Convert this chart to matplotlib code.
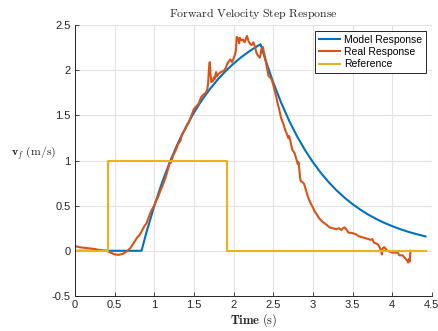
import matplotlib
matplotlib.use("Agg")
import matplotlib.pyplot as plt

# ---- data ----
model_t = [0.0, 0.84, 0.9, 1.0, 1.1, 1.2, 1.3, 1.4, 1.5, 1.6, 1.7, 1.8, 1.9, 2.0, 2.1, 2.2, 2.3, 2.34,
           2.4, 2.5, 2.6, 2.7, 2.8, 2.9, 3.0, 3.1, 3.2, 3.3, 3.4, 3.5, 3.6, 3.7, 3.8, 3.9, 4.0, 4.1,
           4.2, 4.3, 4.42]
model_v = [0.0, 0.0, 0.198, 0.496, 0.759, 0.991, 1.195, 1.373, 1.530, 1.669, 1.790, 1.897, 1.991,
           2.074, 2.147, 2.211, 2.268, 2.288,
           2.120, 1.866, 1.641, 1.443, 1.269, 1.117, 0.982, 0.864, 0.760, 0.668, 0.588, 0.517,
           0.455, 0.400, 0.352, 0.310, 0.273, 0.240, 0.211, 0.186, 0.159]

real_t = [0.00, 0.02, 0.05, 0.10, 0.15, 0.20, 0.25, 0.30, 0.35, 0.40, 0.45, 0.50, 0.55, 0.60, 0.65,
          0.70, 0.75, 0.78, 0.82, 0.85, 0.88, 0.90, 0.93, 0.96, 1.00, 1.02, 1.05, 1.08, 1.10, 1.13,
          1.16, 1.19, 1.21, 1.24, 1.27, 1.30, 1.33, 1.35, 1.38, 1.41, 1.44, 1.47, 1.50, 1.53, 1.56,
          1.59, 1.62, 1.65, 1.67, 1.68, 1.69, 1.70, 1.71, 1.72, 1.74, 1.75, 1.76, 1.78, 1.79, 1.81,
          1.84, 1.87, 1.90, 1.92, 1.94, 1.96, 1.98, 2.00, 2.02, 2.03, 2.04, 2.06, 2.07, 2.08, 2.10,
          2.12, 2.14, 2.16, 2.17, 2.19, 2.21, 2.23, 2.25, 2.27, 2.29, 2.31, 2.33, 2.34, 2.35, 2.37,
          2.38, 2.40, 2.42, 2.44, 2.46, 2.48, 2.50, 2.52, 2.54, 2.56, 2.58, 2.60, 2.63, 2.65, 2.67,
          2.69, 2.70, 2.72, 2.74, 2.77, 2.79, 2.81, 2.82, 2.84, 2.85, 2.87, 2.89, 2.91, 2.93, 2.95,
          2.97, 3.00, 3.02, 3.05, 3.08, 3.11, 3.14, 3.17, 3.21, 3.25, 3.29, 3.33, 3.36, 3.38, 3.40,
          3.42, 3.45, 3.48, 3.52, 3.55, 3.58, 3.62, 3.66, 3.70, 3.73, 3.75, 3.77, 3.80, 3.82, 3.84,
          3.86, 3.87, 3.88, 3.90, 3.92, 3.94, 3.97, 4.00, 4.04, 4.07, 4.09, 4.13, 4.15, 4.17, 4.19,
          4.20, 4.21, 4.22, 4.23]
real_v = [0.04, 0.05, 0.04, 0.035, 0.03, 0.025, 0.02, 0.01, 0.005, 0.0, -0.02, -0.04, -0.045, -0.035,
          -0.01, 0.03, 0.10, 0.14, 0.18, 0.23, 0.28, 0.30, 0.37, 0.44, 0.50, 0.55, 0.60, 0.67, 0.71,
          0.78, 0.86, 0.96, 0.98, 1.06, 1.11, 1.18, 1.22, 1.29, 1.33, 1.38, 1.43, 1.50, 1.57, 1.60,
          1.63, 1.70, 1.73, 1.75, 1.79, 1.86, 2.02, 2.09, 1.95, 1.87, 1.88, 1.92, 1.90, 1.98, 1.93,
          1.96, 1.98, 1.99, 2.02, 2.07, 2.10, 2.12, 2.09, 2.13, 2.18, 2.22, 2.37, 2.35, 2.30, 2.36,
          2.33, 2.34, 2.31, 2.36, 2.38, 2.32, 2.29, 2.28, 2.31, 2.26, 2.19, 2.16, 2.14, 2.17, 2.23,
          2.26, 2.21, 2.13, 2.03, 1.94, 1.92, 1.90, 1.84, 1.77, 1.70, 1.62, 1.55, 1.47, 1.40, 1.34,
          1.30, 1.25, 1.27, 1.20, 1.12, 1.08, 1.02, 0.96, 0.98, 0.80, 0.77, 0.76, 0.74, 0.68, 0.62,
          0.57, 0.53, 0.48, 0.44, 0.40, 0.36, 0.33, 0.31, 0.29, 0.26, 0.25, 0.24, 0.25, 0.23, 0.25,
          0.26, 0.24, 0.20, 0.20, 0.19, 0.18, 0.16, 0.15, 0.14, 0.13, 0.12, 0.13, 0.09, 0.08, 0.07,
          0.04, 0.00, -0.04, 0.03, 0.04, 0.02, 0.00, -0.01, -0.02, -0.02, -0.02, -0.05, -0.05, -0.07,
          -0.09, -0.11, -0.13, -0.09, -0.12, 0.0]

ref_t = [0.0, 0.42, 0.42, 1.92, 1.92, 4.42]
ref_v = [0.0, 0.0, 1.0, 1.0, 0.0, 0.0]

xticks = [0, 0.5, 1, 1.5, 2, 2.5, 3, 3.5, 4, 4.5]
xtick_labels = ["0", "0.5", "1", "1.5", "2", "2.5", "3", "3.5", "4", "4.5"]
yticks = [-0.5, 0, 0.5, 1, 1.5, 2, 2.5]
ytick_labels = ["-0.5", "0", "0.5", "1", "1.5", "2", "2.5"]

# ---- plot ----
plt.rcParams['mathtext.fontset'] = 'cm'
plt.rcParams['font.family'] = ['Liberation Sans', 'DejaVu Sans']

fig = plt.figure(figsize=(4.38, 3.31), dpi=100)
ax = fig.add_axes([0.171, 0.106, 0.815, 0.818])

ax.plot(model_t, model_v, color='#0072BD', lw=1.5, label='Model Response')
ax.plot(real_t, real_v, color='#D95319', lw=1.5, label='Real Response')
ax.plot(ref_t, ref_v, color='#EDB120', lw=1.5, label='Reference')

ax.set_xlim(0, 4.5)
ax.set_ylim(-0.5, 2.5)
ax.set_xticks(xticks)
ax.set_xticklabels(xtick_labels)
ax.set_yticks(yticks)
ax.set_yticklabels(ytick_labels)
ax.tick_params(direction='in', length=3, width=0.6, labelsize=8, colors='#262626', pad=3)
ax.grid(True, color='#e3e3e3', lw=0.8)
ax.set_axisbelow(True)
for s in ['top', 'right']:
    ax.spines[s].set_visible(False)
for s in ['left', 'bottom']:
    ax.spines[s].set_color('#262626')
    ax.spines[s].set_linewidth(0.7)

ax.set_title(r'$\mathrm{Forward\ Velocity\ Step\ Response}$', fontsize=8.5, color='#262626', pad=6)
ax.set_xlabel(r'$\mathbf{Time}\ \mathrm{(s)}$', fontsize=9, color='#262626', labelpad=1)
ax.set_ylabel(r'$\mathbf{v}_f\ \mathrm{(m/s)}$', fontsize=8.5, color='#262626', rotation=0,
              ha='center', va='center')
ax.yaxis.set_label_coords(-0.115, 0.526)

leg = ax.legend(loc='upper right', fontsize=7.5, frameon=True, fancybox=False,
                edgecolor='#262626', framealpha=1, borderpad=0.35, labelspacing=0.2,
                handlelength=2.0, handletextpad=0.4, borderaxespad=0.6)
leg.get_frame().set_linewidth(0.7)

fig.savefig('out.png', dpi=100)
